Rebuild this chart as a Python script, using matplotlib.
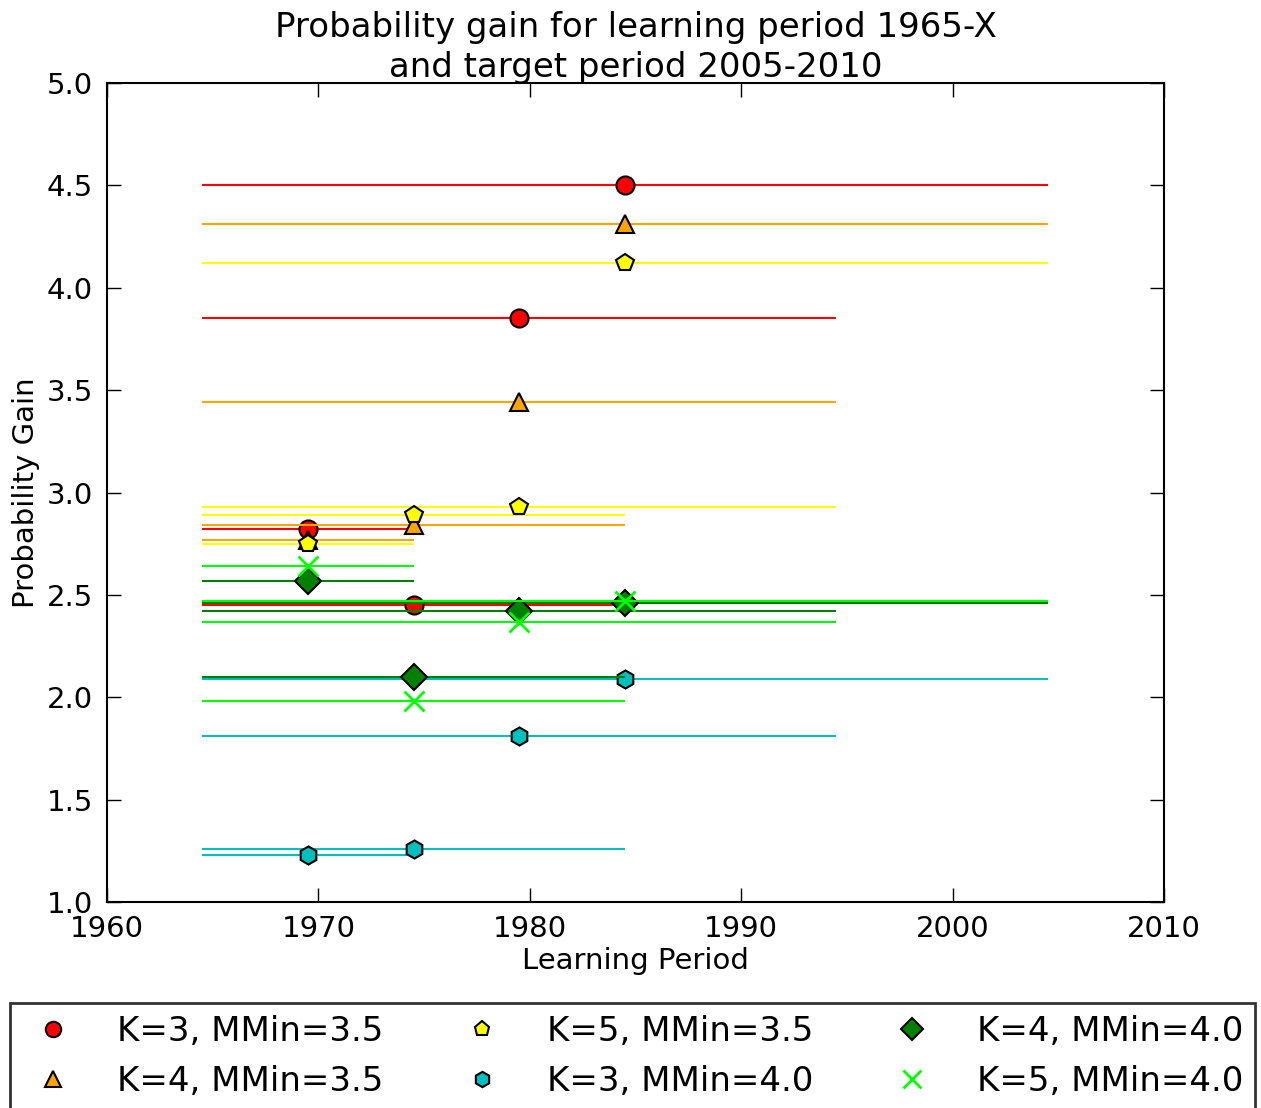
import matplotlib
matplotlib.use("Agg")
import matplotlib.pyplot as plt

plt.rcParams["font.family"] = "DejaVu Sans"

# centre of each learning window and its half width (years)
periods = [1969.5, 1974.5, 1979.5, 1984.5]
half_width = [5, 10, 15, 20]

labels = [
    "K=3, MMin=3.5",
    "K=4, MMin=3.5",
    "K=5, MMin=3.5",
    "K=3, MMin=4.0",
    "K=4, MMin=4.0",
    "K=5, MMin=4.0",
]

gain_k3_35 = [2.82, 2.45, 3.85, 4.50]
gain_k4_35 = [2.77, 2.84, 3.44, 4.31]
gain_k5_35 = [2.75, 2.89, 2.93, 4.12]
gain_k3_40 = [1.23, 1.26, 1.81, 2.09]
gain_k4_40 = [2.57, 2.10, 2.42, 2.46]
gain_k5_40 = [2.64, 1.98, 2.37, 2.47]

series = [gain_k3_35, gain_k4_35, gain_k5_35, gain_k3_40, gain_k4_40, gain_k5_40]
colors = ["#ff0000", "#ffa500", "#ffff00", "#00bfbf", "#008000", "#00ff00"]
markers = ["o", "^", "p", "h", "D", "x"]
sizes = [13, 13, 13, 13, 13, 15]

fig = plt.figure(figsize=(12.61, 11.08), dpi=100, facecolor="white")
ax = fig.add_axes([0.0849, 0.1859, 0.8382, 0.7392])

handles = []
for vals, c, m, s, lab in zip(series, colors, markers, sizes, labels):
    ax.errorbar(periods, vals, xerr=half_width, fmt="none", ecolor=c,
                elinewidth=1.5, capsize=0)
    edge = c if m == "x" else "black"
    (h,) = ax.plot(periods, vals, linestyle="none", marker=m, color=c,
                   markeredgecolor=edge, markeredgewidth=1.5 if m != "x" else 2,
                   markersize=s, label=lab)
    handles.append(h)

ax.set_xlim(1960, 2010)
ax.set_ylim(1.0, 5.0)
ax.set_xticks(range(1960, 2011, 10))
ax.set_yticks([1.0, 1.5, 2.0, 2.5, 3.0, 3.5, 4.0, 4.5, 5.0])
ax.set_yticklabels(["1.0", "1.5", "2.0", "2.5", "3.0", "3.5", "4.0", "4.5", "5.0"])
ax.tick_params(direction="in", length=10, width=1, top=True, right=True,
               labelsize=21)
ax.tick_params(axis="x", pad=9)
ax.tick_params(axis="y", pad=10)
for sp in ax.spines.values():
    sp.set_linewidth(1.5)

ax.set_title("Probability gain for learning period 1965-X\nand target period 2005-2010",
             fontsize=24.5, pad=4, linespacing=1.28)
ax.set_xlabel("Learning Period", fontsize=21, labelpad=3)
ax.set_ylabel("Probability Gain", fontsize=21, labelpad=5)

leg = fig.legend(handles=handles, loc="upper left", bbox_to_anchor=(0.008, 0.095),
                 bbox_transform=fig.transFigure, ncol=3, numpoints=1,
                 fontsize=24.5, frameon=True, fancybox=False, handlelength=1.8,
                 handletextpad=1.0, columnspacing=2.0, borderpad=0.35,
                 labelspacing=0.5, borderaxespad=0, markerscale=0.85)
leg.get_frame().set_edgecolor("black")
leg.get_frame().set_linewidth(2)

fig.savefig("out.png", dpi=100, facecolor="white")
